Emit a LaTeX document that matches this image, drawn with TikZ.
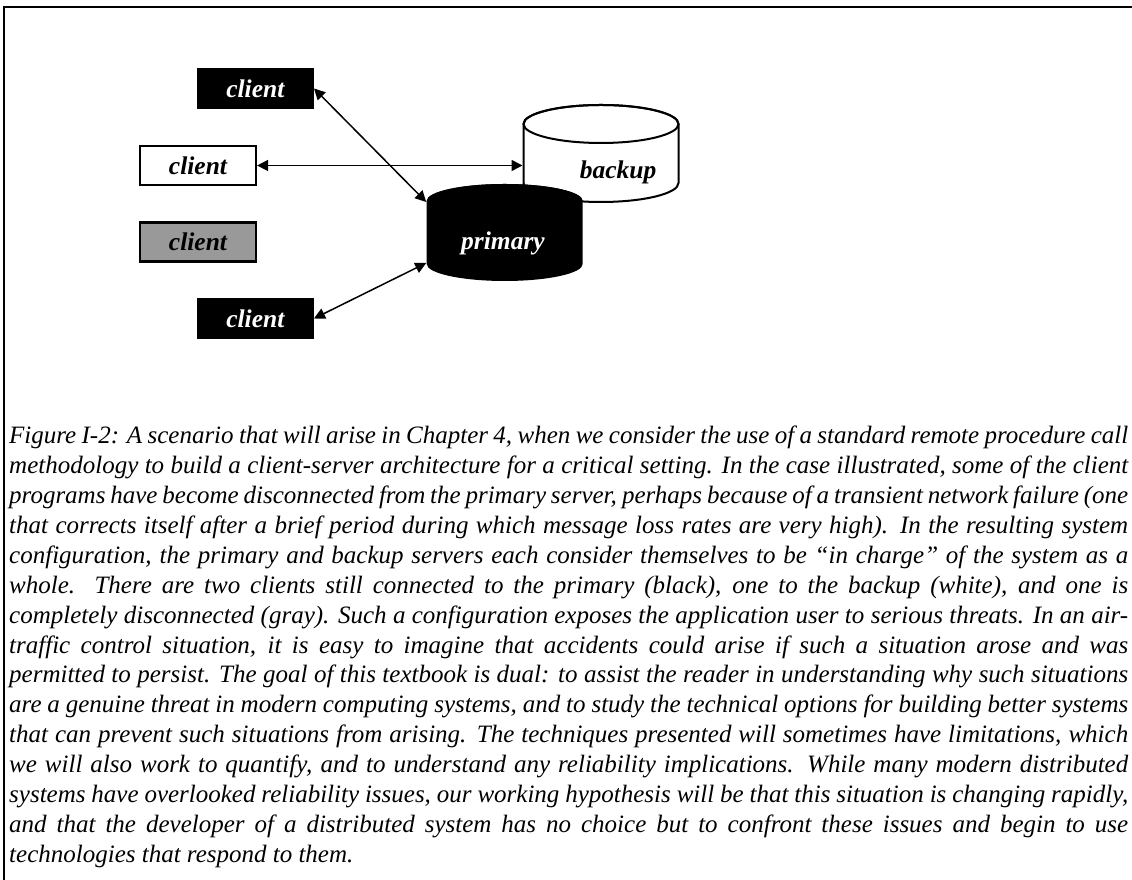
\documentclass[tikz,border=0pt]{standalone}
\usepackage{fontspec}
\setmainfont{Liberation Serif}[WordSpace={1,1.2,1.8}]
\usetikzlibrary{arrows.meta}

\newcommand{\jline}[1]{\hbox to \hsize{#1}}

\begin{document}
\begin{tikzpicture}[x=1pt,y=1pt,
  lbl/.style={font=\fontsize{25.5}{28}\selectfont\bfseries\itshape, inner sep=0pt},
  darkbox/.style={lbl, rectangle, fill=black, text=white, minimum width=117pt, minimum height=41pt},
  lightbox/.style={lbl, rectangle, draw=black, line width=2.2pt, fill=white, minimum width=116pt, minimum height=39pt},
  greybox/.style={lightbox, fill=black!40},
  link/.style={line width=1.5pt, {Triangle[length=11pt,width=11pt]}-{Triangle[length=11pt,width=11pt]}},
  rim/.style={line width=2pt}]

\useasboundingbox (0,0) rectangle (1132,880);

% page frame: top and left rules only
\draw[line width=2pt] (3,872.5) -- (1132,872.5);
\draw[line width=2pt] (4,873.5) -- (4,0);

% clients
\node[darkbox]  (c1) at (255.3,791.5) {client};
\node[lightbox] (c2) at (198,714.5) {client};
\node[greybox]  (c3) at (198,638) {client};
\node[darkbox]  (c4) at (255.3,561.5) {client};

% backup server (white cylinder)
\def\bx{601}\def\brx{77.5}\def\bry{19}\def\bt{756}\def\bb{697}
\filldraw[rim, fill=white] (\bx-\brx,\bt) -- (\bx-\brx,\bb)
  arc[start angle=180, end angle=360, x radius=\brx, y radius=\bry]
  -- (\bx+\brx,\bt)
  arc[start angle=0, end angle=180, x radius=\brx, y radius=\bry] -- cycle;
\draw[rim] (\bx,\bt) ellipse[x radius=\brx, y radius=\bry];
\node[lbl] (backup) at (618,708) {backup};
\coordinate (bakw) at (\bx-\brx-1,714.5);

% primary server (black cylinder)
\def\px{504.7}\def\prx{78}\def\pry{17}\def\pt{679}\def\pb{616}
\fill[black] (\px-\prx,\pt) -- (\px-\prx,\pb)
  arc[start angle=180, end angle=360, x radius=\prx, y radius=\pry]
  -- (\px+\prx,\pt)
  arc[start angle=0, end angle=180, x radius=\prx, y radius=\pry] -- cycle;
\fill[black] (\px,\pt) ellipse[x radius=\prx, y radius=\pry];
\node[lbl, text=white] (primary) at (503,637) {primary};
\coordinate (prinw) at (\px-\prx-0.5,\pt-1);
\coordinate (prisw) at (\px-\prx-0.5,\pb+1);

% connections still alive
\draw[link] (c1.east) -- (prinw);
\draw[link] (c2.east) -- (bakw);
\draw[link] (c4.east) -- (prisw);

% caption
\node[anchor=base west, inner sep=0pt] (caption) at (9,436) {%
\fontsize{25}{29.86}\selectfont\itshape
\vtop{\hsize=1119pt \baselineskip=29.86pt
\jline{Figure I-2: A scenario that will arise in Chapter 4, when we consider the use of a standard remote procedure call}
\jline{methodology to build a client-server architecture for a critical setting.  In the case illustrated, some of the client}
\jline{programs have become disconnected from the primary server, perhaps because of a transient network failure (one}
\jline{that corrects itself after a brief period during which message loss rates are very high).  In the resulting system}
\jline{configuration, the primary and backup servers each consider themselves to be “in charge” of the system as a}
\jline{whole.  There are two clients still connected to the primary (black), one to the backup (white), and one is}
\jline{completely disconnected (gray).  Such a configuration exposes the application user to serious threats.  In an air-}
\jline{traffic control situation, it is easy to imagine that accidents could arise if such a situation arose and was}
\jline{permitted to persist.  The goal of this textbook is dual: to assist the reader in understanding why such situations}
\jline{are a genuine threat in modern computing systems, and to study the technical options for building better systems}
\jline{that can prevent such situations from arising.  The techniques presented will sometimes have limitations, which}
\jline{we will also work to quantify, and to understand any reliability implications.  While many modern distributed}
\jline{systems have overlooked reliability issues, our working hypothesis will be that this situation is changing rapidly,}
\jline{and that the developer of a distributed system has no choice but to confront these issues and begin to use}
\hbox{technologies that respond to them.}}};
\end{tikzpicture}
\end{document}
